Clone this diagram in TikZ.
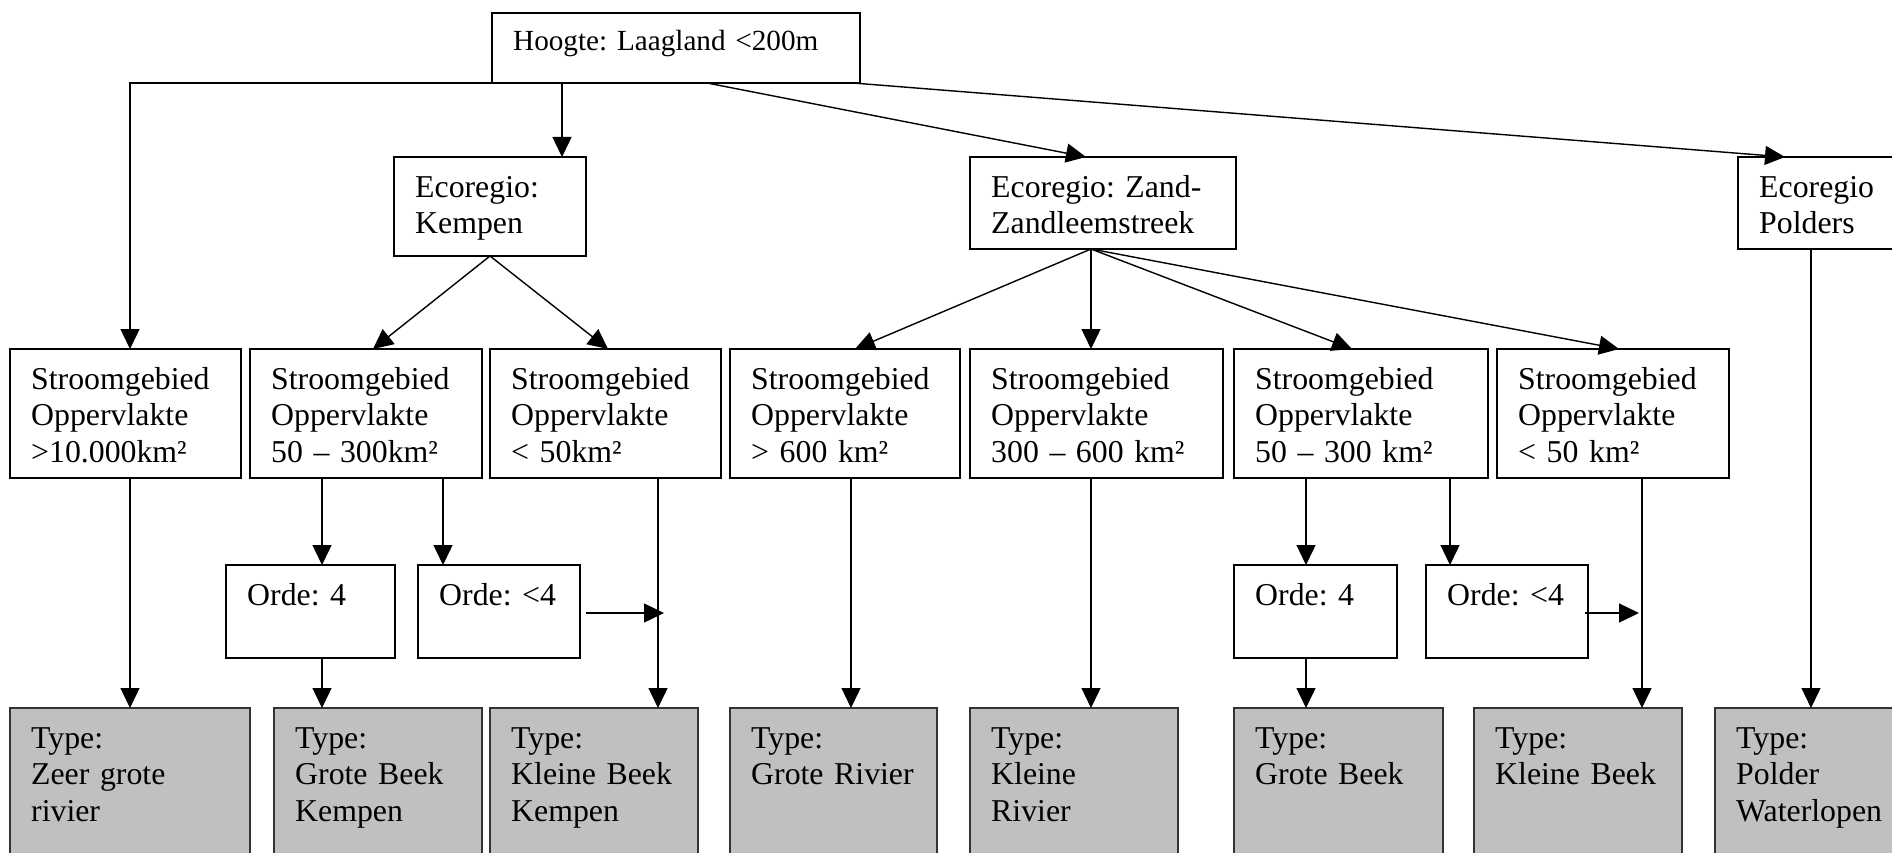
\documentclass[tikz,border=0pt]{standalone}
\usepackage{fontspec}
\setmainfont{Liberation Serif}
\usetikzlibrary{arrows.meta}
\frenchspacing

% A framed box with its top-left corner at (x,y) and its text set from the top-left
\newcommand\flowbox[7]{%
  \node[box,#6,minimum width=#4pt,minimum height=#5pt] (#1) at (#2,#3) {};
  \node[txt] (#1-t) at ([shift={(21pt,-40pt)}]#1.north west) {#7};
}

\begin{document}
\begin{tikzpicture}[x=1pt,y=-1pt,
  box/.style={draw=black,line width=1.8pt,inner sep=0pt,outer sep=0pt,anchor=north west},
  leaf/.style={fill=typegray,draw=black!80},
  txt/.style={anchor=base west,inner sep=0pt,text width=500pt,align=left,
    font=\fontsize{31.8pt}{36.6pt}\selectfont\frenchspacing},
  arr/.style={-{Triangle[length=20pt,width=19pt]},line width=1.4pt},
  line/.style={line width=1.4pt}]
\definecolor{typegray}{RGB}{192,192,192}
\clip (0,0) rectangle (1892,853);
\fill[white] (0,0) rectangle (1892,853);

% top level
\node[box,minimum width=368pt,minimum height=70pt] (hoogte) at (492,13) {};
\node[txt,font=\fontsize{29.2pt}{34pt}\selectfont\frenchspacing] (hoogte-t)
  at ([shift={(21pt,-37.5pt)}]hoogte.north west) {Hoogte: Laagland <200m};

% ecoregions
\flowbox{kempen}{394}{157}{192}{99}{}{Ecoregio:\\Kempen}
\flowbox{zand}{970}{157}{266}{92}{}{Ecoregio: Zand-\\Zandleemstreek}
\flowbox{polders}{1738}{157}{170}{92}{}{Ecoregio\\Polders}

% catchment areas
\flowbox{s1}{10}{349}{231}{129}{}{Stroomgebied\\Oppervlakte\\>10.000km²}
\flowbox{s2}{250}{349}{232}{129}{}{Stroomgebied\\Oppervlakte\\50 – 300km²}
\flowbox{s3}{490}{349}{231}{129}{}{Stroomgebied\\Oppervlakte\\< 50km²}
\flowbox{s4}{730}{349}{230}{129}{}{Stroomgebied\\Oppervlakte\\> 600 km²}
\flowbox{s5}{970}{349}{253}{129}{}{Stroomgebied\\Oppervlakte\\300 – 600 km²}
\flowbox{s6}{1234}{349}{254}{129}{}{Stroomgebied\\Oppervlakte\\50 – 300 km²}
\flowbox{s7}{1497}{349}{232}{129}{}{Stroomgebied\\Oppervlakte\\< 50 km²}

% stream order
\flowbox{o1}{226}{565}{169}{93}{}{Orde: 4}
\flowbox{o2}{418}{565}{162}{93}{}{Orde: <4}
\flowbox{o3}{1234}{565}{163}{93}{}{Orde: 4}
\flowbox{o4}{1426}{565}{162}{93}{}{Orde: <4}

% resulting water types
\flowbox{t1}{10}{708}{240}{170}{leaf}{Type:\\Zeer grote\\rivier}
\flowbox{t2}{274}{708}{208}{170}{leaf}{Type:\\Grote Beek\\Kempen}
\flowbox{t3}{490}{708}{208}{170}{leaf}{Type:\\Kleine Beek\\Kempen}
\flowbox{t4}{730}{708}{207}{170}{leaf}{Type:\\Grote Rivier}
\flowbox{t5}{970}{708}{208}{170}{leaf}{Type:\\Kleine\\Rivier}
\flowbox{t6}{1234}{708}{209}{170}{leaf}{Type:\\Grote Beek}
\flowbox{t7}{1474}{708}{208}{170}{leaf}{Type:\\Kleine Beek}
\flowbox{t8}{1715}{708}{190}{170}{leaf}{Type:\\Polder\\Waterlopen}

% branching points on the lower edges
\coordinate (kz) at ([xshift=121pt]zand.south west);
\coordinate (l3) at ([xshift=168pt]s3.south west);
\coordinate (l7) at ([xshift=145pt]s7.south west);

% from the top box
\draw[arr] (hoogte.south west) -| ([xshift=120pt]s1.north west);
\draw[arr] ([xshift=70pt]hoogte.south west) -- ([xshift=70pt]hoogte.south west |- kempen.north);
\draw[arr] ([xshift=215pt]hoogte.south west) -- ([xshift=116pt]zand.north west);
\draw[arr] ([xshift=-7pt]hoogte.south east) -- ([xshift=47pt]polders.north west);

% from the ecoregions
\draw[arr] (kempen.south) -- ([xshift=123pt]s2.north west);
\draw[arr] (kempen.south) -- ([xshift=118pt]s3.north west);
\draw[arr] (kz) -- ([xshift=125pt]s4.north west);
\draw[arr] (kz) -- (kz |- s5.north);
\draw[arr] (kz) -- ([xshift=118pt]s6.north west);
\draw[arr] (kz) -- ([xshift=122pt]s7.north west);
\draw[arr] ([xshift=73pt]polders.south west) -- ([xshift=73pt]polders.south west |- t8.north);

% from the catchment areas
\draw[arr] ([xshift=120pt]s1.south west) -- ([xshift=120pt]s1.south west |- t1.north);
\draw[arr] ([xshift=72pt]s2.south west) -- ([xshift=72pt]s2.south west |- o1.north);
\draw[arr] ([xshift=193pt]s2.south west) -- ([xshift=193pt]s2.south west |- o2.north);
\draw[arr] (l3) -- (l3 |- t3.north);
\draw[arr] ([xshift=121pt]s4.south west) -- ([xshift=121pt]s4.south west |- t4.north);
\draw[arr] ([xshift=121pt]s5.south west) -- ([xshift=121pt]s5.south west |- t5.north);
\draw[arr] ([xshift=72pt]s6.south west) -- ([xshift=72pt]s6.south west |- o3.north);
\draw[arr] ([xshift=216pt]s6.south west) -- ([xshift=216pt]s6.south west |- o4.north);
\draw[arr] (l7) -- (l7 |- t7.north);

% from the stream order boxes
\draw[arr] ([xshift=96pt]o1.south west) -- ([xshift=96pt]o1.south west |- t2.north);
\draw[arr] ([xshift=72pt]o3.south west) -- ([xshift=72pt]o3.south west |- t6.north);
\draw[arr] ([shift={(6pt,-1.5pt)}]o2.east) -- ([shift={(6pt,-1.5pt)}]o2.east -| l3);
\draw[arr] ([shift={(-3pt,-1.5pt)}]o4.east) -- ([shift={(-3pt,-1.5pt)}]o4.east -| l7);
\end{tikzpicture}
\end{document}
